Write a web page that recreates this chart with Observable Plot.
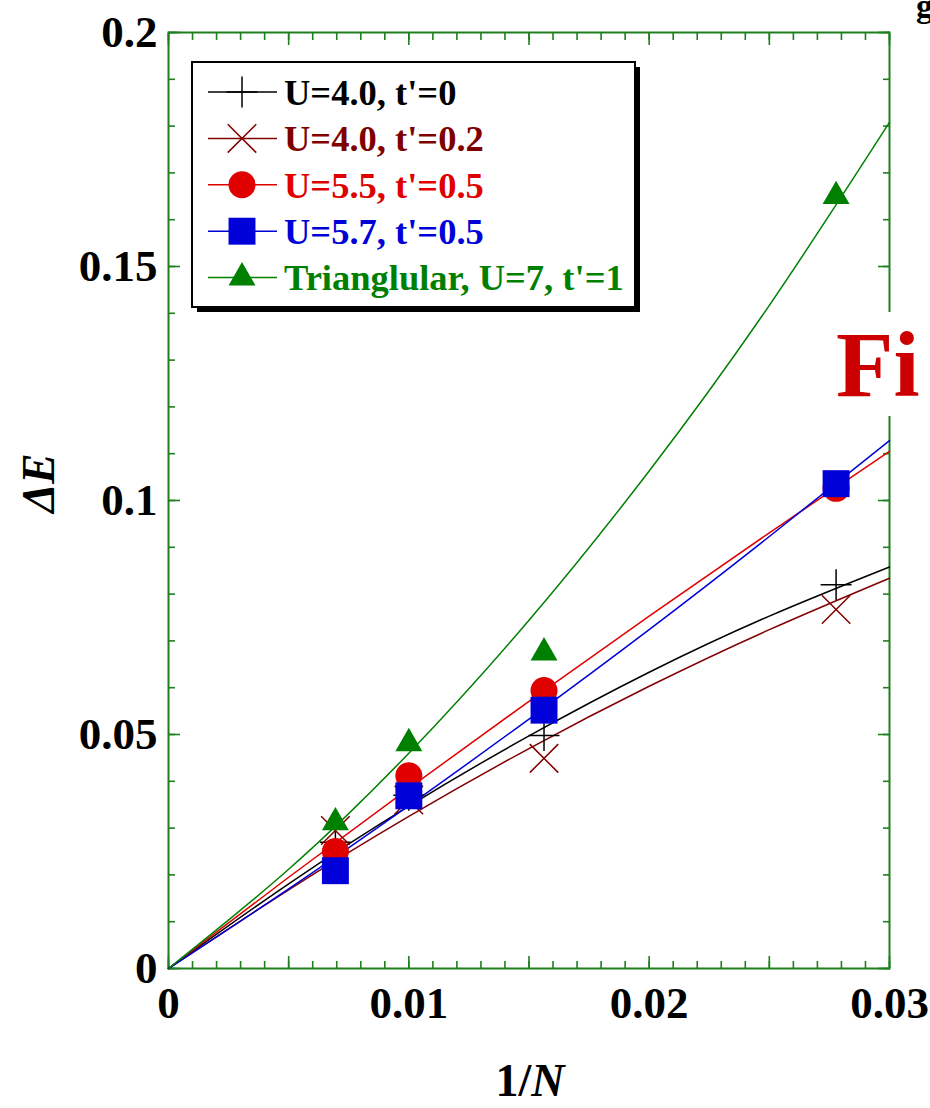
<!DOCTYPE html>
<html><head><meta charset="utf-8">
<script src="https://cdn.jsdelivr.net/npm/d3@7"></script>
<script src="https://cdn.jsdelivr.net/npm/@observablehq/plot@0.6"></script>
<style>
body{margin:0;background:#fff}
#chart{position:relative;width:930px;height:1108px;overflow:hidden}
</style>
</head><body><div id="chart"></div>
<script>
// ---- data ----
const invN = [1/144, 1/100, 1/64, 1/36];
const seriesNames = ["U=4.0, t'=0", "U=4.0, t'=0.2", "U=5.5, t'=0.5", "U=5.7, t'=0.5", "Trianglular, U=7, t'=1"];
const seriesColors = ["#000000", "#800000", "#e00000", "#0000d8", "#008000"];
const seriesSymbols = ["plus", "times", "circle", "square", "triangle"];
const pointsU40t0   = [0.0270, 0.0370, 0.0498, 0.0820];
const pointsU40t02  = [0.0295, 0.0360, 0.0449, 0.0767];
const pointsU55t05  = [0.0250, 0.0412, 0.0594, 0.1026];
const pointsU57t05  = [0.0209, 0.0369, 0.0552, 0.1036];
const pointsTri     = [0.0312, 0.0481, 0.0675, 0.1650];
const fitX          = [0, 0.005, 0.01, 0.015, 0.02, 0.025, 0.03];
const fitU40t0      = [0, 0.0181, 0.0347, 0.0497, 0.0633, 0.0753, 0.0858];
const fitU40t02     = [0, 0.0168, 0.0325, 0.0470, 0.0603, 0.0724, 0.0834];
const fitU55t05     = [0, 0.0195, 0.0385, 0.0571, 0.0753, 0.0931, 0.1105];
const fitU57t05     = [0, 0.0170, 0.0348, 0.0533, 0.0724, 0.0923, 0.1128];
const fitTri        = [0, 0.0212, 0.0460, 0.0744, 0.1063, 0.1417, 0.1808];
const xTickLabels = [0, 0.01, 0.02, 0.03];
const yTickLabels = [0, 0.05, 0.1, 0.15, 0.2];

const allPoints = [pointsU40t0, pointsU40t02, pointsU55t05, pointsU57t05, pointsTri];
const allFits = [fitU40t0, fitU40t02, fitU55t05, fitU57t05, fitTri];
const pointRows = allPoints.flatMap((vals, s) => vals.map((v, i) => ({s, x: invN[i], y: v})));
const fitRows = allFits.flatMap((vals, s) => vals.map((v, i) => ({s, x: fitX[i], y: v})));

const frameGreen = "#1f7f1f";
const font = "'Liberation Serif', 'DejaVu Serif', serif";
const xMinor = d3.range(0, 31).map(i => i / 1000);
const xMajor = d3.range(0, 7).map(i => i * 0.005);
const yMinor = d3.range(0, 21).map(i => i / 100);
const yMajor = yTickLabels;
const symR = {plus: 10, times: 13, circle: 13.5, square: 15.2, triangle: 10};

const tickOpts = {stroke: frameGreen, strokeWidth: 1.6, label: null, tickFormat: () => ""};

const plot = Plot.plot({
  width: 930, height: 1108,
  marginLeft: 168, marginRight: 41, marginTop: 32, marginBottom: 140,
  x: {domain: [0, 0.03]},
  y: {domain: [0, 0.2]},
  style: {background: "#ffffff", fontFamily: font},
  marks: [
    Plot.axisX({anchor: "bottom", ticks: xMinor, tickSize: -7, ...tickOpts}),
    Plot.axisX({anchor: "bottom", ticks: xMajor, tickSize: -12, ...tickOpts}),
    Plot.axisX({anchor: "top", ticks: xMinor, tickSize: -7, ...tickOpts}),
    Plot.axisX({anchor: "top", ticks: xMajor, tickSize: -12, ...tickOpts}),
    Plot.axisY({anchor: "left", ticks: yMinor, tickSize: -7, ...tickOpts}),
    Plot.axisY({anchor: "left", ticks: yMajor, tickSize: -12, ...tickOpts}),
    Plot.axisY({anchor: "right", ticks: yMinor, tickSize: -7, ...tickOpts}),
    Plot.axisY({anchor: "right", ticks: yMajor, tickSize: -12, ...tickOpts}),
    Plot.axisX({anchor: "bottom", ticks: xTickLabels, tickSize: 0, tickPadding: 18, label: null,
      tickFormat: d => String(d), fontSize: 45, fontWeight: "bold", fontFamily: font, fill: "#000"}),
    Plot.axisY({anchor: "left", ticks: yTickLabels, tickSize: 0, tickPadding: 11, label: null,
      tickFormat: d => String(d), fontSize: 45, fontWeight: "bold", fontFamily: font, fill: "#000"}),
    Plot.frame({stroke: frameGreen, strokeWidth: 2}),
    Plot.line(fitRows, {x: "x", y: "y", z: "s", stroke: d => seriesColors[d.s], curve: "natural", strokeWidth: 1.5}),
    ...seriesSymbols.map((sym, s) =>
      Plot.dot(pointRows.filter(d => d.s === s), {x: "x", y: "y", symbol: sym, r: symR[sym],
        ...(sym === "plus" || sym === "times"
          ? {stroke: seriesColors[s], strokeWidth: 1.5, fill: "none"}
          : {fill: seriesColors[s], stroke: "none"})}))
  ]
});

document.getElementById("chart").appendChild(plot);
const svg = d3.select(plot);

// axis titles
svg.append("text").attr("x", 530).attr("y", 1096).attr("text-anchor", "middle")
  .attr("font-family", font).attr("font-size", 46).attr("font-weight", "bold")
  .call(t => { t.append("tspan").text("1/"); t.append("tspan").attr("font-style", "italic").text("N"); });
svg.append("text").attr("transform", "translate(54,483) rotate(-90)").attr("text-anchor", "middle")
  .attr("font-family", font).attr("font-size", 46).attr("font-weight", "bold").attr("font-style", "italic")
  .text("ΔE");

// legend
const lg = svg.append("g").attr("text-anchor", "start");
lg.append("rect").attr("x", 197).attr("y", 67).attr("width", 443).attr("height", 245).attr("fill", "#000");
lg.append("rect").attr("x", 192).attr("y", 62).attr("width", 443).attr("height", 245)
  .attr("fill", "#fff").attr("stroke", "#000").attr("stroke-width", 2);
const symMap = {plus: d3.symbolPlus, times: d3.symbolTimes, circle: d3.symbolCircle, square: d3.symbolSquare, triangle: d3.symbolTriangle};
seriesNames.forEach((name, i) => {
  const cy = 92 + i * 46.4;
  const c = seriesColors[i];
  const sym = seriesSymbols[i];
  lg.append("line").attr("x1", 208).attr("x2", 277).attr("y1", cy).attr("y2", cy).attr("stroke", c).attr("stroke-width", 1.5);
  const r = symR[sym];
  const p = lg.append("path").attr("transform", `translate(242,${cy})`)
    .attr("d", d3.symbol(symMap[sym], Math.PI * r * r)());
  if (sym === "plus" || sym === "times") p.attr("fill", "none").attr("stroke", c).attr("stroke-width", 1.5);
  else p.attr("fill", c);
  lg.append("text").attr("x", 284).attr("y", cy).attr("dy", "0.35em").attr("text-anchor", "start")
    .attr("font-family", font).attr("font-size", 36.5).attr("font-weight", "bold").attr("fill", c).text(name);
});

// overlapping fragments from the surrounding page
svg.append("rect").attr("x", 830).attr("y", 312).attr("width", 100).attr("height", 104).attr("fill", "#fff");
svg.append("text").attr("x", 836).attr("y", 396).attr("text-anchor", "start").attr("font-family", font).attr("font-size", 94)
  .attr("font-weight", "bold").attr("fill", "#cc0000").text("Fi");
svg.append("text").attr("x", 916).attr("y", 17).attr("text-anchor", "start").attr("font-family", font).attr("font-size", 34)
  .attr("font-weight", "bold").attr("fill", "#000").text("g");
</script>
</body></html>
